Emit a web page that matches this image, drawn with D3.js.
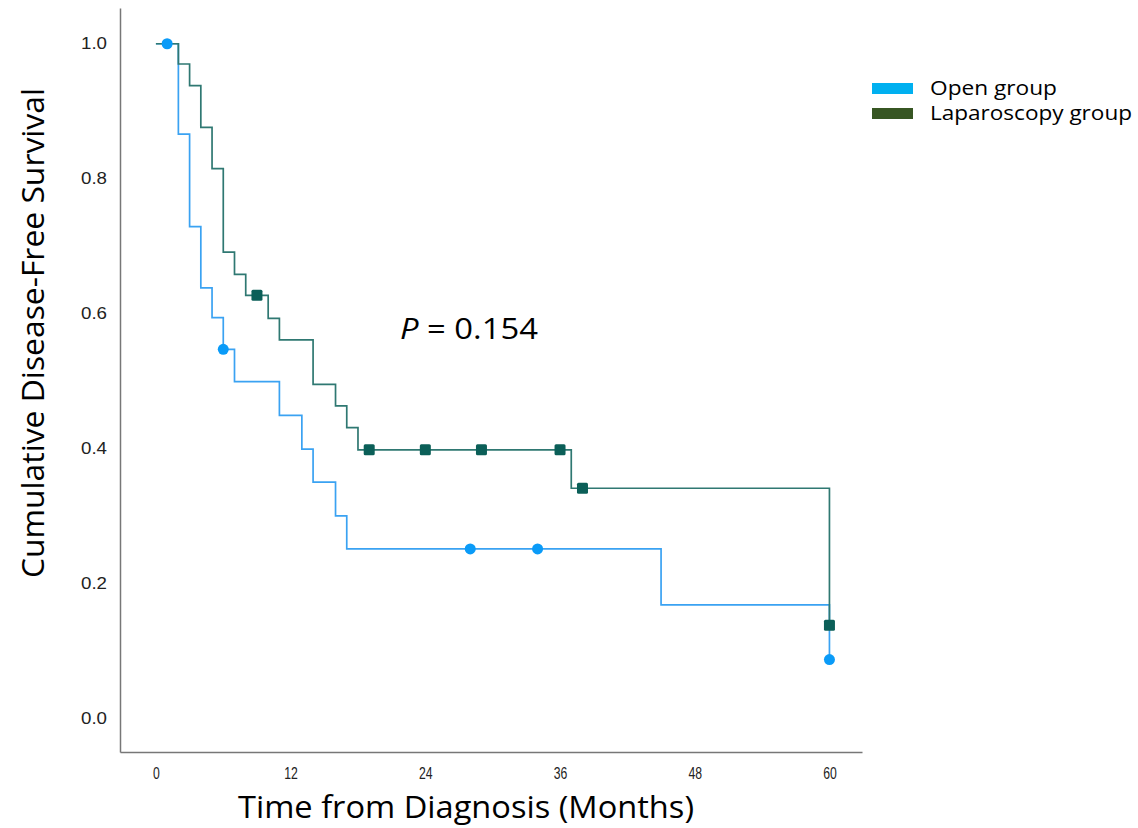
<!DOCTYPE html>
<html>
<head>
<meta charset="utf-8">
<script src="https://cdn.jsdelivr.net/npm/d3@7"></script>
<style>
  body { margin: 0; background: #fff; }
  svg { display: block; }
</style>
</head>
<body>
<div id="vis"></div>
<script>
const svgWidth = 1138,
  svgHeight = 828;

// open group: event times and survival after each step
const openTimes = [0, 2, 3, 4, 5, 6, 7, 11, 13, 14, 16, 17, 45, 60];
const openSurv = [1.0, 0.866, 0.729, 0.638, 0.594, 0.547, 0.499, 0.449, 0.399, 0.35, 0.3, 0.251, 0.168, 0.087];
const openCensored = [1, 6, 28, 34, 60];

// laparoscopy group
const lapTimes = [0, 2, 3, 4, 5, 6, 7, 8, 10, 11, 14, 16, 17, 18, 37, 60];
const lapSurv = [1.0, 0.97, 0.938, 0.876, 0.815, 0.691, 0.658, 0.627, 0.593, 0.561, 0.495, 0.463, 0.431, 0.398, 0.341, 0.138];
const lapCensored = [9, 19, 24, 29, 36, 38, 60];

const xTicks = [0, 12, 24, 36, 48, 60];
const yTicks = [0, 0.2, 0.4, 0.6, 0.8, 1.0];
const groupNames = ["Open group", "Laparoscopy group"];

const svg = d3
  .select("#vis")
  .append("svg")
  .attr("width", svgWidth)
  .attr("height", svgHeight);

const x = d3.scaleLinear().domain([-3.2, 62.9]).range([120, 862]);
const y = d3.scaleLinear().domain([-0.05, 1.053]).range([752, 8]);

// axes, no tick marks
const xAxis = svg
  .append("g")
  .attr("transform", "translate(0,752)")
  .call(d3.axisBottom(x).tickValues(xTicks).tickSize(0).tickPadding(15).tickFormat(d3.format("d")));
xAxis
  .selectAll("text")
  .attr("font-family", "Liberation Sans, Arial, sans-serif")
  .attr("font-size", 17)
  .attr("fill", "#222")
  .attr("textLength", (d) => String(d).length * 6.8)
  .attr("lengthAdjust", "spacingAndGlyphs");

const yAxis = svg
  .append("g")
  .attr("transform", "translate(120,0)")
  .call(d3.axisLeft(y).tickValues(yTicks).tickSize(0).tickPadding(13).tickFormat(d3.format(".1f")));
yAxis
  .selectAll("text")
  .attr("font-family", "Liberation Sans, Arial, sans-serif")
  .attr("font-size", 16)
  .attr("fill", "#222")
  .attr("textLength", 26)
  .attr("lengthAdjust", "spacingAndGlyphs");

svg.selectAll(".domain").attr("stroke", "#777").attr("stroke-width", 1.5);

// step lines
function stepData(times, surv) {
  return times.map((t, i) => [t, surv[i]]);
}
function survAt(times, surv, t) {
  let v = surv[0];
  times.forEach((tt, i) => {
    if (tt <= t) v = surv[i];
  });
  return v;
}

const line = d3
  .line()
  .x((d) => x(d[0]))
  .y((d) => y(d[1]))
  .curve(d3.curveStepAfter);

svg
  .append("path")
  .attr("d", line(stepData(openTimes, openSurv)))
  .attr("fill", "none")
  .attr("stroke", "#3aa2f2")
  .attr("stroke-width", 1.7);

svg
  .append("path")
  .attr("d", line(stepData(lapTimes, lapSurv)))
  .attr("fill", "none")
  .attr("stroke", "#2f7872")
  .attr("stroke-width", 1.7);

// censor marks
svg
  .selectAll("circle.cens")
  .data(openCensored)
  .enter()
  .append("circle")
  .attr("class", "cens")
  .attr("cx", (d) => x(d))
  .attr("cy", (d) => y(survAt(openTimes, openSurv, d)))
  .attr("r", 5.5)
  .attr("fill", "#0a9bf8");

svg
  .selectAll("rect.cens")
  .data(lapCensored)
  .enter()
  .append("rect")
  .attr("class", "cens")
  .attr("x", (d) => x(d) - 5.5)
  .attr("y", (d) => y(survAt(lapTimes, lapSurv, d)) - 5.5)
  .attr("width", 11)
  .attr("height", 11)
  .attr("rx", 1.5)
  .attr("fill", "#0b5f58");

// titles
const titleFont = "Open Sans, Noto Sans, sans-serif";
svg
  .append("text")
  .attr("x", 466)
  .attr("y", 818)
  .attr("text-anchor", "middle")
  .attr("font-family", titleFont)
  .attr("font-size", 31)
  .attr("textLength", 456)
  .attr("lengthAdjust", "spacingAndGlyphs")
  .attr("fill", "#000")
  .text("Time from Diagnosis (Months)");

svg
  .append("text")
  .attr("transform", "translate(44,333) rotate(-90)")
  .attr("text-anchor", "middle")
  .attr("font-family", titleFont)
  .attr("font-size", 31)
  .attr("textLength", 490)
  .attr("lengthAdjust", "spacingAndGlyphs")
  .attr("fill", "#000")
  .text("Cumulative Disease-Free Survival");

const pText = svg
  .append("text")
  .attr("x", 400)
  .attr("y", 339)
  .attr("font-family", titleFont)
  .attr("font-size", 29)
  .attr("textLength", 138)
  .attr("lengthAdjust", "spacingAndGlyphs")
  .attr("fill", "#000");
pText.append("tspan").attr("font-style", "italic").text("P");
pText.append("tspan").text(" = 0.154");

// legend
const legendColors = ["#00b0f0", "#375623"];
const legend = svg
  .selectAll("g.legend")
  .data(groupNames)
  .enter()
  .append("g")
  .attr("class", "legend")
  .attr("transform", (d, i) => `translate(872,${83 + i * 25})`);
legend
  .append("rect")
  .attr("width", 41)
  .attr("height", 11)
  .attr("fill", (d, i) => legendColors[i]);
legend
  .append("text")
  .attr("x", 58)
  .attr("y", 12)
  .attr("font-family", titleFont)
  .attr("font-size", 20)
  .attr("textLength", (d, i) => (i === 0 ? 127 : 202))
  .attr("lengthAdjust", "spacingAndGlyphs")
  .attr("fill", "#000")
  .text((d) => d);
</script>
</body>
</html>
